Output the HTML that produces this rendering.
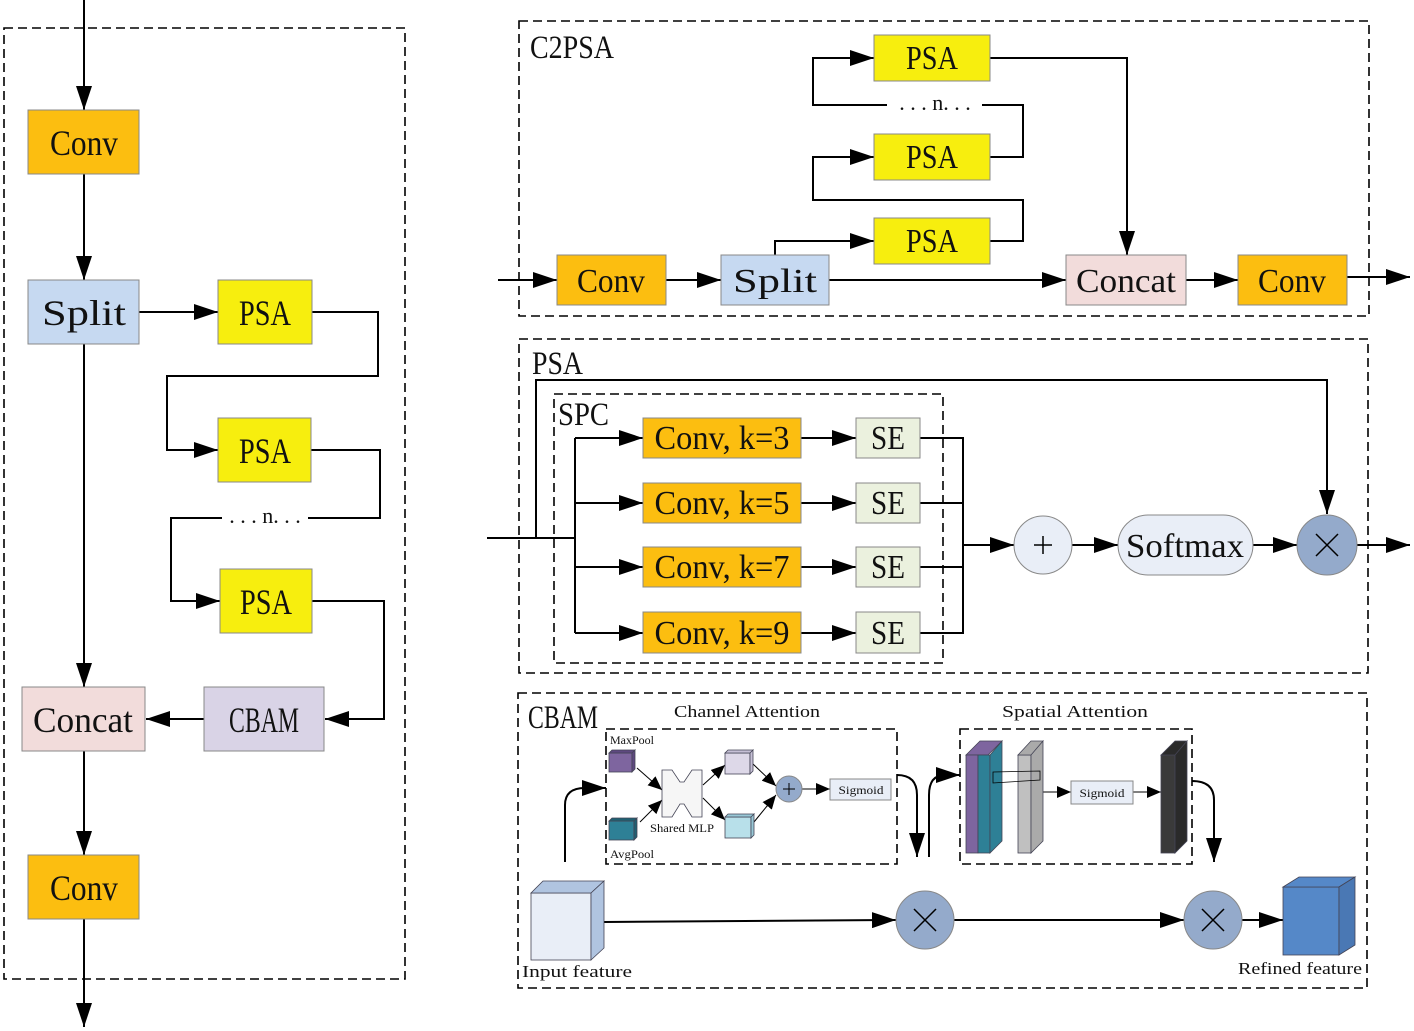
<!DOCTYPE html>
<html><head><meta charset="utf-8"><style>
html,body{margin:0;padding:0;background:#fff}
svg{display:block}
text{font-family:"Liberation Serif","DejaVu Serif",serif;fill:#111}
</style></head><body>
<svg width="1414" height="1031" viewBox="0 0 1414 1031" xmlns="http://www.w3.org/2000/svg">
<defs>
<marker id="a" viewBox="0 0 10 10" refX="10" refY="5" markerWidth="8" markerHeight="8" orient="auto" markerUnits="userSpaceOnUse">
<path d="M0,0 L10,5 L0,10z" fill="#000"/></marker>
<marker id="b" viewBox="0 0 10 10" refX="10" refY="5" markerWidth="24" markerHeight="16" orient="auto" markerUnits="userSpaceOnUse" preserveAspectRatio="none">
<path d="M0,0 L10,5 L0,10z" fill="#000"/></marker>
<marker id="s" viewBox="0 0 10 10" refX="10" refY="5" markerWidth="14" markerHeight="12" orient="auto" markerUnits="userSpaceOnUse" preserveAspectRatio="none">
<path d="M0,0 L10,5 L0,10z" fill="#000"/></marker>
</defs>
<g fill="none" stroke="#000" stroke-width="1.6" stroke-dasharray="9,5">
<rect x="4" y="28" width="401" height="951"/>
<rect x="519" y="21" width="850" height="295"/>
<rect x="519" y="339" width="849" height="334"/>
<rect x="554" y="394" width="389" height="269"/>
<rect x="518" y="693" width="849" height="295"/>
<rect x="606" y="729" width="291" height="135"/>
<rect x="960" y="729" width="232" height="135"/>
</g>
<g stroke="#000" stroke-width="2" fill="none">
<line x1="84" y1="0" x2="84" y2="110" marker-end="url(#b)"/>
<line x1="84" y1="174" x2="84" y2="280" marker-end="url(#b)"/>
<line x1="139" y1="312" x2="218" y2="312" marker-end="url(#b)"/>
<polyline points="312,312 378,312 378,376 167,376 167,450 218,450" marker-end="url(#b)"/>
<polyline points="311,450 380,450 380,518 308,518"/>
<polyline points="222,518 171,518 171,601 220,601" marker-end="url(#b)"/>
<polyline points="312,601 384,601 384,719 325,719" marker-end="url(#b)"/>
<line x1="204" y1="719" x2="146" y2="719" marker-end="url(#b)"/>
<line x1="84" y1="344" x2="84" y2="687" marker-end="url(#b)"/>
<line x1="84" y1="751" x2="84" y2="855" marker-end="url(#b)"/>
<line x1="84" y1="919" x2="84" y2="1027" marker-end="url(#b)"/>
<line x1="498" y1="280" x2="557" y2="280" marker-end="url(#b)"/>
<line x1="666" y1="280" x2="721" y2="280" marker-end="url(#b)"/>
<polyline points="775,255 775,241 874,241" marker-end="url(#b)"/>
<polyline points="990,241 1023,241 1023,200 813,200 813,157 874,157" marker-end="url(#b)"/>
<polyline points="990,157 1023,157 1023,105 982,105"/>
<polyline points="887,105 813,105 813,58 874,58" marker-end="url(#b)"/>
<polyline points="990,58 1127,58 1127,255" marker-end="url(#b)"/>
<line x1="829" y1="280" x2="1066" y2="280" marker-end="url(#b)"/>
<line x1="1186" y1="280" x2="1238" y2="280" marker-end="url(#b)"/>
<line x1="1347" y1="277" x2="1410" y2="277" marker-end="url(#b)"/>
<line x1="487" y1="538" x2="575" y2="538"/>
<polyline points="536,538 536,380 1327,380 1327,514" marker-end="url(#b)"/>
<line x1="575" y1="438" x2="575" y2="633"/>
<line x1="575" y1="438" x2="643" y2="438" marker-end="url(#b)"/>
<line x1="575" y1="503" x2="643" y2="503" marker-end="url(#b)"/>
<line x1="575" y1="567" x2="643" y2="567" marker-end="url(#b)"/>
<line x1="575" y1="633" x2="643" y2="633" marker-end="url(#b)"/>
<line x1="801" y1="438" x2="856" y2="438" marker-end="url(#b)"/>
<line x1="801" y1="503" x2="856" y2="503" marker-end="url(#b)"/>
<line x1="801" y1="567" x2="856" y2="567" marker-end="url(#b)"/>
<line x1="801" y1="633" x2="856" y2="633" marker-end="url(#b)"/>
<polyline points="920,438 963,438 963,633 920,633"/>
<line x1="920" y1="503" x2="963" y2="503"/>
<line x1="920" y1="567" x2="963" y2="567"/>
<line x1="963" y1="545" x2="1014" y2="545" marker-end="url(#b)"/>
<line x1="1072" y1="545" x2="1118" y2="545" marker-end="url(#b)"/>
<line x1="1253" y1="545" x2="1297" y2="545" marker-end="url(#b)"/>
<line x1="1357" y1="545" x2="1410" y2="545" marker-end="url(#b)"/>
<path d="M565,862 L565,805 Q565,788 585,788 L606,788" marker-end="url(#b)"/>
<path d="M897,775 Q917,775 917,795 L917,857" marker-end="url(#b)"/>
<path d="M929,857 L929,795 Q929,775 945,775 L960,775" marker-end="url(#b)"/>
<path d="M1192,781 Q1214,781 1214,800 L1214,862" marker-end="url(#b)"/>
<line x1="604" y1="922" x2="896" y2="920" marker-end="url(#b)"/>
<line x1="954" y1="920" x2="1184" y2="920" marker-end="url(#b)"/>
<line x1="1242" y1="920" x2="1283" y2="920" marker-end="url(#b)"/>
</g>
<g stroke="#000" stroke-width="1" fill="none">
<line x1="637" y1="768" x2="662" y2="790" marker-end="url(#s)"/>
<line x1="640" y1="822" x2="662" y2="800" marker-end="url(#s)"/>
<line x1="703" y1="785" x2="725" y2="765" marker-end="url(#s)"/>
<line x1="703" y1="798" x2="725" y2="820" marker-end="url(#s)"/>
<line x1="753" y1="764" x2="776" y2="786" marker-end="url(#s)"/>
<line x1="754" y1="822" x2="776" y2="795" marker-end="url(#s)"/>
<line x1="802" y1="789" x2="830" y2="789" marker-end="url(#s)"/>
<line x1="1043" y1="792" x2="1071" y2="792" marker-end="url(#s)"/>
<line x1="1133" y1="792" x2="1161" y2="792" marker-end="url(#s)"/>
</g>
<g stroke="#888" stroke-width="1">
<rect x="28" y="110" width="111" height="64" fill="#FCBE10"/>
<rect x="28" y="280" width="111" height="64" fill="#C6D9F1"/>
<rect x="218" y="280" width="94" height="64" fill="#F7EE0E"/>
<rect x="218" y="418" width="93" height="64" fill="#F7EE0E"/>
<rect x="220" y="569" width="92" height="64" fill="#F7EE0E"/>
<rect x="204" y="687" width="120" height="64" fill="#D9D3E6"/>
<rect x="22" y="687" width="123" height="64" fill="#F2DCDB"/>
<rect x="28" y="855" width="111" height="64" fill="#FCBE10"/>
<rect x="557" y="255" width="109" height="50" fill="#FCBE10"/>
<rect x="721" y="255" width="108" height="50" fill="#C6D9F1"/>
<rect x="874" y="218" width="116" height="46" fill="#F7EE0E"/>
<rect x="874" y="134" width="116" height="46" fill="#F7EE0E"/>
<rect x="874" y="35" width="116" height="46" fill="#F7EE0E"/>
<rect x="1066" y="255" width="120" height="50" fill="#F2DCDB"/>
<rect x="1238" y="255" width="109" height="50" fill="#FCBE10"/>
<rect x="643" y="418" width="158" height="40" fill="#FCBE10"/>
<rect x="643" y="483" width="158" height="40" fill="#FCBE10"/>
<rect x="643" y="547" width="158" height="40" fill="#FCBE10"/>
<rect x="643" y="612" width="158" height="41" fill="#FCBE10"/>
<rect x="856" y="418" width="64" height="40" fill="#EBF1DE"/>
<rect x="856" y="483" width="64" height="40" fill="#EBF1DE"/>
<rect x="856" y="547" width="64" height="40" fill="#EBF1DE"/>
<rect x="856" y="612" width="64" height="41" fill="#EBF1DE"/>
<circle cx="1043" cy="545" r="29" fill="#E9EEF7"/>
<rect x="1118" y="515" width="135" height="60" rx="30" fill="#E9EEF7"/>
<circle cx="1327" cy="545" r="30" fill="#94AACB"/>
<circle cx="925" cy="920" r="29" fill="#94AACB"/>
<circle cx="1213" cy="920" r="29" fill="#94AACB"/>
<circle cx="789" cy="789" r="13" fill="#94AACB"/>
<rect x="830" y="779" width="61" height="21" fill="#E9EEF7"/>
<rect x="1071" y="781" width="62" height="23" fill="#E9EEF7"/>
</g>
<g stroke="#445" stroke-width="0.8">
<rect x="531" y="893" width="60" height="67" fill="#E9EEF7"/><path d="M531,893 L543,881 L604,881 L591,893z" fill="#B0C4E0"/><path d="M591,893 L604,881 L604,948 L591,960z" fill="#B0C4E0"/>
<rect x="1283" y="887" width="56" height="68" fill="#5588C8"/><path d="M1283,887 L1299,877 L1355,877 L1339,887z" fill="#5588C8"/><path d="M1339,887 L1355,877 L1355,945 L1339,955z" fill="#4A78B4"/>
<rect x="609" y="753" width="23" height="19" fill="#7E659F"/><path d="M609,753 L612,750 L635,750 L632,753z M632,753 L635,750 L635,769 L632,772z" fill="#5e4880"/>
<rect x="609" y="821" width="25" height="19" fill="#2E8096"/><path d="M609,821 L612,818 L637,818 L634,821z M634,821 L637,818 L637,837 L634,840z" fill="#1f6072"/>
<rect x="725" y="753" width="25" height="21" fill="#DDD8E8"/><path d="M725,753 L728,750 L753,750 L750,753z M750,753 L753,750 L753,771 L750,774z" fill="#c6c0d6"/>
<rect x="725" y="817" width="26" height="21" fill="#B8E0EA"/><path d="M725,817 L728,814 L754,814 L751,817z M751,817 L754,814 L754,835 L751,838z" fill="#98c8d6"/>
<path d="M662,770 L672,770 L680,782 L684,782 L692,770 L702,770 L702,817 L692,817 L684,804 L680,804 L672,817 L662,817z" fill="#f6f6f6"/>
<path d="M966,755 L980,741 L1002,741 L988,755z" fill="#7E659F"/>
<rect x="966" y="755" width="12" height="98" fill="#7E659F"/>
<rect x="978" y="755" width="12" height="98" fill="#2E8096"/><path d="M990,755 L1002,741 L1002,841 L990,853z" fill="#2E8096"/>
<rect x="1018" y="755" width="13" height="98" fill="#C0C0C0"/><path d="M1018,755 L1031,741 L1043,741 L1031,755z M1031,755 L1043,741 L1043,841 L1031,853z" fill="#aaa"/>
<path d="M993,772 L1040,771 L1040,780 L993,783z" fill="none" stroke="#000"/>
<rect x="1161" y="755" width="14" height="98" fill="#3a3a3a"/><path d="M1161,755 L1175,741 L1187,741 L1175,755z M1175,755 L1187,741 L1187,841 L1175,853z" fill="#2a2a2a"/>
</g>
<g font-size="36" text-anchor="middle" lengthAdjust="spacingAndGlyphs">
<text x="84" y="155" textLength="68" lengthAdjust="spacingAndGlyphs">Conv</text>
<text x="84" y="325" textLength="84" lengthAdjust="spacingAndGlyphs">Split</text>
<text x="265" y="325" textLength="52" lengthAdjust="spacingAndGlyphs">PSA</text>
<text x="265" y="463" textLength="52" lengthAdjust="spacingAndGlyphs">PSA</text>
<text x="266" y="614" textLength="52" lengthAdjust="spacingAndGlyphs">PSA</text>
<text x="264" y="732" textLength="70" lengthAdjust="spacingAndGlyphs">CBAM</text>
<text x="83" y="732" textLength="100" lengthAdjust="spacingAndGlyphs">Concat</text>
<text x="84" y="900" textLength="68" lengthAdjust="spacingAndGlyphs">Conv</text>
</g>
<text x="265" y="523" font-size="22" text-anchor="middle">. . . n. . .</text>
<text x="935" y="110" font-size="22" text-anchor="middle">. . . n. . .</text>
<g font-size="34" text-anchor="middle">
<text x="611" y="292" textLength="68" lengthAdjust="spacingAndGlyphs">Conv</text>
<text x="775" y="292" textLength="84" lengthAdjust="spacingAndGlyphs">Split</text>
<text x="932" y="69" textLength="52" lengthAdjust="spacingAndGlyphs">PSA</text>
<text x="932" y="168" textLength="52" lengthAdjust="spacingAndGlyphs">PSA</text>
<text x="932" y="252" textLength="52" lengthAdjust="spacingAndGlyphs">PSA</text>
<text x="1126" y="292" textLength="100" lengthAdjust="spacingAndGlyphs">Concat</text>
<text x="1292" y="292" textLength="68" lengthAdjust="spacingAndGlyphs">Conv</text>
<text x="722" y="449" textLength="135" lengthAdjust="spacingAndGlyphs">Conv, k=3</text>
<text x="722" y="514" textLength="135" lengthAdjust="spacingAndGlyphs">Conv, k=5</text>
<text x="722" y="578" textLength="135" lengthAdjust="spacingAndGlyphs">Conv, k=7</text>
<text x="722" y="644" textLength="135" lengthAdjust="spacingAndGlyphs">Conv, k=9</text>
<text x="888" y="449" textLength="34" lengthAdjust="spacingAndGlyphs">SE</text>
<text x="888" y="514" textLength="34" lengthAdjust="spacingAndGlyphs">SE</text>
<text x="888" y="578" textLength="34" lengthAdjust="spacingAndGlyphs">SE</text>
<text x="888" y="644" textLength="34" lengthAdjust="spacingAndGlyphs">SE</text>
<text x="1185" y="557" textLength="118" lengthAdjust="spacingAndGlyphs">Softmax</text>
</g>
<g font-size="33">
<text x="530" y="58" textLength="84" lengthAdjust="spacingAndGlyphs">C2PSA</text>
<text x="532" y="374" textLength="51" lengthAdjust="spacingAndGlyphs">PSA</text>
<text x="558" y="425" textLength="51" lengthAdjust="spacingAndGlyphs">SPC</text>
<text x="528" y="728" textLength="70" lengthAdjust="spacingAndGlyphs">CBAM</text>
</g>
<g font-size="17" text-anchor="middle">
<text x="747" y="717" textLength="146" lengthAdjust="spacingAndGlyphs">Channel Attention</text>
<text x="1075" y="717" textLength="146" lengthAdjust="spacingAndGlyphs">Spatial Attention</text>
<text x="577" y="977" textLength="110" lengthAdjust="spacingAndGlyphs">Input feature</text>
<text x="1300" y="974" textLength="124" lengthAdjust="spacingAndGlyphs">Refined feature</text>
</g>
<g font-size="12">
<text x="610" y="744" textLength="44" lengthAdjust="spacingAndGlyphs">MaxPool</text>
<text x="610" y="858" textLength="44" lengthAdjust="spacingAndGlyphs">AvgPool</text>
<text x="650" y="832" textLength="64" lengthAdjust="spacingAndGlyphs">Shared MLP</text>
<text x="861" y="794" text-anchor="middle" textLength="45" lengthAdjust="spacingAndGlyphs">Sigmoid</text>
<text x="1102" y="797" text-anchor="middle" textLength="45" lengthAdjust="spacingAndGlyphs">Sigmoid</text>
</g>
<g stroke="#000" stroke-width="1.5" fill="none">
<path d="M1043,536 V554 M1034,545 H1052"/>
<path d="M1316,534 L1338,556 M1338,534 L1316,556"/>
<path d="M914,909 L936,931 M936,909 L914,931"/>
<path d="M1202,909 L1224,931 M1224,909 L1202,931"/>
<path d="M789,783 V795 M783,789 H795" stroke-width="1"/>
</g>
</svg>
</body></html>
